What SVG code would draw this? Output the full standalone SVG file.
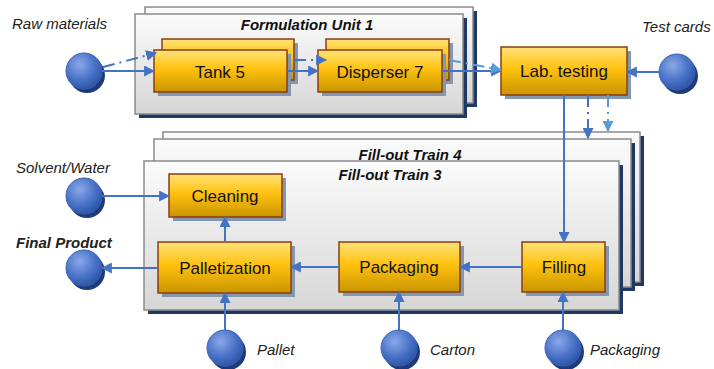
<svg xmlns="http://www.w3.org/2000/svg" width="714" height="369" viewBox="0 0 714 369">
<defs>
<linearGradient id="gFrame" x1="0" y1="0" x2="0" y2="1">
<stop offset="0" stop-color="#fbfbfb"/><stop offset="1" stop-color="#d6d6d6"/>
</linearGradient>
<linearGradient id="gBox" x1="0" y1="0" x2="0" y2="1">
<stop offset="0" stop-color="#ffe27a"/><stop offset="0.45" stop-color="#ffc20e"/><stop offset="1" stop-color="#c99400"/>
</linearGradient>
<radialGradient id="gBall" cx="0.38" cy="0.32" r="0.7">
<stop offset="0" stop-color="#8aa8e8"/><stop offset="0.6" stop-color="#4a73c8"/><stop offset="1" stop-color="#2d54a6"/>
</radialGradient>
<marker id="ar" viewBox="0 0 10 10" refX="9" refY="5" markerWidth="11" markerHeight="11" orient="auto" markerUnits="userSpaceOnUse">
<path d="M0,0 L10,5 L0,10 z" fill="#4472c4"/>
</marker>
<marker id="ar2" viewBox="0 0 10 10" refX="9" refY="5" markerWidth="11" markerHeight="11" orient="auto" markerUnits="userSpaceOnUse">
<path d="M0,0 L10,5 L0,10 z" fill="#5b9bd5"/>
</marker>
<style>
.frame{fill:url(#gFrame);stroke:#8a8a8a;stroke-width:1.5}
.fshadow{fill:#1f3864}
.box{fill:url(#gBox);stroke:#8b3e0f;stroke-width:1.5}
.bshadow{fill:#8497b0}
.ball{fill:url(#gBall);stroke:#3a62b8;stroke-width:1}
.ballsh{fill:#1f3a78}
.btxt{font-family:"Liberation Sans",Arial,sans-serif;font-size:17px;fill:#111;text-anchor:middle}
.ttl{font-family:"Liberation Sans",Arial,sans-serif;font-size:15px;font-weight:bold;font-style:italic;fill:#111;text-anchor:middle}
.lbl{font-family:"Liberation Sans",Arial,sans-serif;font-size:15px;font-style:italic;fill:#222}
.c{fill:none;stroke:#4472c4;stroke-width:2;marker-end:url(#ar)}
.cd{fill:none;stroke:#4472c4;stroke-width:2;stroke-dasharray:12 5 2 5;marker-end:url(#ar)}
.cl{fill:none;stroke:#5b9bd5;stroke-width:2;stroke-dasharray:12 5 2 5;marker-end:url(#ar2)}
</style>
</defs>

<g id="formulation-unit">
<rect class="fshadow" x="149" y="11" width="328" height="96"/>
<rect class="frame" x="145" y="7" width="328" height="96"/>
<rect class="fshadow" x="139" y="18" width="328" height="100"/>
<rect class="frame" x="135" y="14" width="328" height="100"/>
<text class="ttl" x="307" y="30">Formulation Unit 1</text>
</g>

<g id="fillout-trains">
<rect class="fshadow" x="167" y="136" width="477" height="150"/>
<rect class="frame" x="163" y="132" width="477" height="150"/>
<rect class="fshadow" x="158" y="143" width="477" height="148"/>
<rect class="frame" x="154" y="139" width="477" height="148"/>
<text class="ttl" x="410" y="160">Fill-out Train 4</text>
<rect class="fshadow" x="148" y="165" width="475" height="149"/>
<rect class="frame" x="144" y="161" width="475" height="149"/>
<text class="ttl" x="390" y="180">Fill-out Train 3</text>
</g>

<g id="tank5">
<rect class="bshadow" x="166" y="43" width="132" height="41"/>
<rect class="box" x="162" y="39" width="132" height="41"/>
<rect class="bshadow" x="158" y="54" width="133" height="42"/>
<rect class="box" x="154" y="50" width="133" height="42"/>
<text class="btxt" x="220" y="78">Tank 5</text>
</g>

<g id="disperser7">
<rect class="bshadow" x="330" y="43" width="123" height="41"/>
<rect class="box" x="326" y="39" width="123" height="41"/>
<rect class="bshadow" x="322" y="54" width="124" height="42"/>
<rect class="box" x="318" y="50" width="124" height="42"/>
<text class="btxt" x="380" y="78">Disperser 7</text>
</g>

<g id="lab-testing">
<rect class="bshadow" x="505" y="51" width="126" height="48"/>
<rect class="box" x="501" y="47" width="126" height="48"/>
<text class="btxt" x="564" y="77">Lab. testing</text>
</g>

<g id="cleaning">
<rect class="bshadow" x="173" y="178" width="113" height="43"/>
<rect class="box" x="169" y="174" width="113" height="43"/>
<text class="btxt" x="225" y="202">Cleaning</text>
</g>

<g id="palletization">
<rect class="bshadow" x="162" y="246" width="133" height="51"/>
<rect class="box" x="158" y="242" width="133" height="51"/>
<text class="btxt" x="225" y="274">Palletization</text>
</g>

<g id="packaging">
<rect class="bshadow" x="343" y="246" width="121" height="50"/>
<rect class="box" x="339" y="242" width="121" height="50"/>
<text class="btxt" x="399" y="273">Packaging</text>
</g>

<g id="filling">
<rect class="bshadow" x="526" y="246" width="83" height="50"/>
<rect class="box" x="522" y="242" width="83" height="50"/>
<text class="btxt" x="564" y="273">Filling</text>
</g>

<g id="raw-materials">
<circle class="ballsh" cx="87" cy="75" r="18"/>
<circle class="ball" cx="84" cy="71" r="18"/>
<text class="lbl" x="12" y="29">Raw materials</text>
</g>

<g id="test-cards">
<circle class="ballsh" cx="680" cy="76" r="18"/>
<circle class="ball" cx="677" cy="72" r="18"/>
<text class="lbl" x="642" y="32">Test cards</text>
</g>

<g id="solvent-water">
<circle class="ballsh" cx="87" cy="200" r="18"/>
<circle class="ball" cx="84" cy="196" r="18"/>
<text class="lbl" x="16" y="173">Solvent/Water</text>
</g>

<g id="final-product">
<circle class="ballsh" cx="87" cy="272" r="18"/>
<circle class="ball" cx="84" cy="268" r="18"/>
<text class="lbl" x="16" y="248" font-weight="bold" fill="#111">Final Product</text>
</g>

<g id="pallet">
<circle class="ballsh" cx="228" cy="352" r="18"/>
<circle class="ball" cx="225" cy="348" r="18"/>
<text class="lbl" x="257" y="355">Pallet</text>
</g>

<g id="carton">
<circle class="ballsh" cx="402" cy="352" r="18"/>
<circle class="ball" cx="399" cy="348" r="18"/>
<text class="lbl" x="430" y="355">Carton</text>
</g>

<g id="packaging-input">
<circle class="ballsh" cx="566" cy="352" r="18"/>
<circle class="ball" cx="563" cy="348" r="18"/>
<text class="lbl" x="590" y="355">Packaging</text>
</g>

<g id="connectors">
<path class="c" d="M102,71 H154"/>
<path class="cd" d="M103,67 L156,53"/>
<path class="c" d="M287,71 H318"/>
<path class="cd" d="M294,60 H326"/>
<path class="c" d="M442,71 H501"/>
<path class="cl" d="M449,60 L501,70"/>
<path class="c" d="M659,72 H627"/>
<path class="c" d="M564,95 V242"/>
<path class="cd" d="M588,95 V138"/>
<path class="cl" d="M608,95 V131"/>
<path class="c" d="M522,267 H460"/>
<path class="c" d="M339,267 H291"/>
<path class="c" d="M225,242 V217"/>
<path class="c" d="M158,268 H102"/>
<path class="c" d="M102,196 H169"/>
<path class="c" d="M225,330 V293"/>
<path class="c" d="M399,330 V292"/>
<path class="c" d="M563,330 V292"/>
</g>
</svg>
